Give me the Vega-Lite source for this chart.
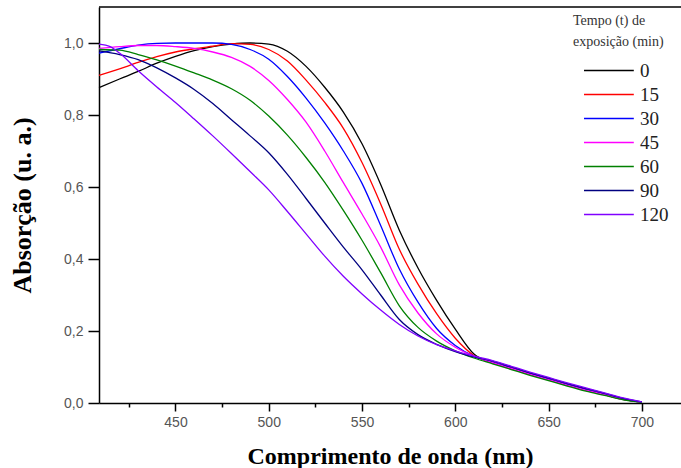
{
  "$schema": "https://vega.github.io/schema/vega-lite/v6.json",
  "autosize": {"type": "none"},
  "padding": {"left": 99, "top": 7, "right": 0, "bottom": 65},
  "width": 582,
  "height": 396,
  "background": "white",
  "config": {
    "view": {"stroke": null},
    "axis": {"grid": false, "domainColor": "black", "domainWidth": 1.5, "tickColor": "black", "tickWidth": 1.5,
      "labelFont": "Liberation Sans", "labelFontSize": 14, "labelColor": "#555555",
      "titleFont": "Liberation Serif", "titleFontWeight": "bold", "titleColor": "black", "labelOverlap": false}
  },
  "layer": [
    {
      "data": {"values": [
        {"t":"0","w":409,"a":0.876},{"t":"0","w":420,"a":0.900},{"t":"0","w":430,"a":0.921},{"t":"0","w":440,"a":0.944},{"t":"0","w":450,"a":0.963},{"t":"0","w":460,"a":0.979},{"t":"0","w":470,"a":0.990},{"t":"0","w":480,"a":0.997},{"t":"0","w":490,"a":1.000},{"t":"0","w":500,"a":0.997},{"t":"0","w":510,"a":0.977},{"t":"0","w":520,"a":0.935},{"t":"0","w":530,"a":0.877},{"t":"0","w":540,"a":0.808},{"t":"0","w":550,"a":0.720},{"t":"0","w":560,"a":0.607},{"t":"0","w":570,"a":0.480},{"t":"0","w":580,"a":0.375},{"t":"0","w":590,"a":0.285},{"t":"0","w":600,"a":0.205},{"t":"0","w":610,"a":0.136},{"t":"0","w":620,"a":0.112},{"t":"0","w":630,"a":0.096},{"t":"0","w":640,"a":0.080},{"t":"0","w":650,"a":0.065},{"t":"0","w":660,"a":0.050},{"t":"0","w":670,"a":0.036},{"t":"0","w":680,"a":0.023},{"t":"0","w":690,"a":0.010},{"t":"0","w":700,"a":0.002},
        {"t":"15","w":409,"a":0.910},{"t":"15","w":420,"a":0.928},{"t":"15","w":430,"a":0.946},{"t":"15","w":440,"a":0.962},{"t":"15","w":450,"a":0.975},{"t":"15","w":460,"a":0.984},{"t":"15","w":470,"a":0.991},{"t":"15","w":480,"a":0.998},{"t":"15","w":490,"a":0.996},{"t":"15","w":500,"a":0.982},{"t":"15","w":510,"a":0.950},{"t":"15","w":520,"a":0.897},{"t":"15","w":530,"a":0.835},{"t":"15","w":540,"a":0.763},{"t":"15","w":550,"a":0.668},{"t":"15","w":560,"a":0.553},{"t":"15","w":570,"a":0.427},{"t":"15","w":580,"a":0.330},{"t":"15","w":590,"a":0.248},{"t":"15","w":600,"a":0.180},{"t":"15","w":610,"a":0.132},{"t":"15","w":620,"a":0.112},{"t":"15","w":630,"a":0.096},{"t":"15","w":640,"a":0.080},{"t":"15","w":650,"a":0.065},{"t":"15","w":660,"a":0.050},{"t":"15","w":670,"a":0.036},{"t":"15","w":680,"a":0.023},{"t":"15","w":690,"a":0.010},{"t":"15","w":700,"a":0.002},
        {"t":"30","w":409,"a":0.972},{"t":"30","w":420,"a":0.984},{"t":"30","w":430,"a":0.994},{"t":"30","w":440,"a":0.999},{"t":"30","w":450,"a":1.000},{"t":"30","w":460,"a":1.000},{"t":"30","w":470,"a":1.000},{"t":"30","w":480,"a":0.996},{"t":"30","w":490,"a":0.982},{"t":"30","w":500,"a":0.955},{"t":"30","w":510,"a":0.907},{"t":"30","w":520,"a":0.847},{"t":"30","w":530,"a":0.778},{"t":"30","w":540,"a":0.700},{"t":"30","w":550,"a":0.610},{"t":"30","w":560,"a":0.493},{"t":"30","w":570,"a":0.372},{"t":"30","w":580,"a":0.280},{"t":"30","w":590,"a":0.207},{"t":"30","w":600,"a":0.160},{"t":"30","w":610,"a":0.130},{"t":"30","w":620,"a":0.113},{"t":"30","w":630,"a":0.097},{"t":"30","w":640,"a":0.081},{"t":"30","w":650,"a":0.066},{"t":"30","w":660,"a":0.051},{"t":"30","w":670,"a":0.037},{"t":"30","w":680,"a":0.024},{"t":"30","w":690,"a":0.011},{"t":"30","w":700,"a":0.002},
        {"t":"45","w":409,"a":0.985},{"t":"45","w":420,"a":0.990},{"t":"45","w":430,"a":0.993},{"t":"45","w":440,"a":0.993},{"t":"45","w":450,"a":0.990},{"t":"45","w":460,"a":0.985},{"t":"45","w":470,"a":0.975},{"t":"45","w":480,"a":0.960},{"t":"45","w":490,"a":0.935},{"t":"45","w":500,"a":0.896},{"t":"45","w":510,"a":0.843},{"t":"45","w":520,"a":0.780},{"t":"45","w":530,"a":0.700},{"t":"45","w":540,"a":0.612},{"t":"45","w":550,"a":0.525},{"t":"45","w":560,"a":0.433},{"t":"45","w":570,"a":0.328},{"t":"45","w":580,"a":0.250},{"t":"45","w":590,"a":0.192},{"t":"45","w":600,"a":0.155},{"t":"45","w":610,"a":0.130},{"t":"45","w":620,"a":0.112},{"t":"45","w":630,"a":0.096},{"t":"45","w":640,"a":0.080},{"t":"45","w":650,"a":0.065},{"t":"45","w":660,"a":0.050},{"t":"45","w":670,"a":0.036},{"t":"45","w":680,"a":0.023},{"t":"45","w":690,"a":0.010},{"t":"45","w":700,"a":0.002},
        {"t":"60","w":409,"a":0.982},{"t":"60","w":420,"a":0.980},{"t":"60","w":430,"a":0.968},{"t":"60","w":440,"a":0.953},{"t":"60","w":450,"a":0.936},{"t":"60","w":460,"a":0.917},{"t":"60","w":470,"a":0.897},{"t":"60","w":480,"a":0.873},{"t":"60","w":490,"a":0.841},{"t":"60","w":500,"a":0.797},{"t":"60","w":510,"a":0.744},{"t":"60","w":520,"a":0.682},{"t":"60","w":530,"a":0.613},{"t":"60","w":540,"a":0.535},{"t":"60","w":550,"a":0.452},{"t":"60","w":560,"a":0.362},{"t":"60","w":570,"a":0.270},{"t":"60","w":580,"a":0.210},{"t":"60","w":590,"a":0.172},{"t":"60","w":600,"a":0.145},{"t":"60","w":610,"a":0.125},{"t":"60","w":620,"a":0.109},{"t":"60","w":630,"a":0.093},{"t":"60","w":640,"a":0.077},{"t":"60","w":650,"a":0.062},{"t":"60","w":660,"a":0.047},{"t":"60","w":670,"a":0.033},{"t":"60","w":680,"a":0.021},{"t":"60","w":690,"a":0.009},{"t":"60","w":700,"a":0.002},
        {"t":"90","w":409,"a":0.978},{"t":"90","w":420,"a":0.968},{"t":"90","w":430,"a":0.954},{"t":"90","w":440,"a":0.931},{"t":"90","w":450,"a":0.903},{"t":"90","w":460,"a":0.871},{"t":"90","w":470,"a":0.832},{"t":"90","w":480,"a":0.787},{"t":"90","w":490,"a":0.742},{"t":"90","w":500,"a":0.695},{"t":"90","w":510,"a":0.635},{"t":"90","w":520,"a":0.568},{"t":"90","w":530,"a":0.500},{"t":"90","w":540,"a":0.433},{"t":"90","w":550,"a":0.370},{"t":"90","w":560,"a":0.300},{"t":"90","w":570,"a":0.232},{"t":"90","w":580,"a":0.190},{"t":"90","w":590,"a":0.163},{"t":"90","w":600,"a":0.143},{"t":"90","w":610,"a":0.128},{"t":"90","w":620,"a":0.116},{"t":"90","w":630,"a":0.100},{"t":"90","w":640,"a":0.084},{"t":"90","w":650,"a":0.069},{"t":"90","w":660,"a":0.054},{"t":"90","w":670,"a":0.040},{"t":"90","w":680,"a":0.027},{"t":"90","w":690,"a":0.013},{"t":"90","w":700,"a":0.003},
        {"t":"120","w":409,"a":0.997},{"t":"120","w":415,"a":0.990},{"t":"120","w":420,"a":0.972},{"t":"120","w":430,"a":0.923},{"t":"120","w":440,"a":0.878},{"t":"120","w":450,"a":0.835},{"t":"120","w":460,"a":0.789},{"t":"120","w":470,"a":0.742},{"t":"120","w":480,"a":0.693},{"t":"120","w":490,"a":0.643},{"t":"120","w":500,"a":0.592},{"t":"120","w":510,"a":0.532},{"t":"120","w":520,"a":0.470},{"t":"120","w":530,"a":0.408},{"t":"120","w":540,"a":0.352},{"t":"120","w":550,"a":0.303},{"t":"120","w":560,"a":0.258},{"t":"120","w":570,"a":0.218},{"t":"120","w":580,"a":0.186},{"t":"120","w":590,"a":0.162},{"t":"120","w":600,"a":0.145},{"t":"120","w":610,"a":0.130},{"t":"120","w":620,"a":0.118},{"t":"120","w":630,"a":0.102},{"t":"120","w":640,"a":0.086},{"t":"120","w":650,"a":0.071},{"t":"120","w":660,"a":0.056},{"t":"120","w":670,"a":0.042},{"t":"120","w":680,"a":0.028},{"t":"120","w":690,"a":0.014},{"t":"120","w":700,"a":0.003}
      ]},
      "mark": {"type": "line", "strokeWidth": 1.3, "interpolate": "monotone"},
      "encoding": {
        "x": {"field": "w", "type": "quantitative",
          "scale": {"domain": [409, 721], "nice": false, "zero": false},
          "axis": {"title": "Comprimento de onda (nm)", "titleFontSize": 24, "values": [425,450,475,500,525,550,575,600,625,650,675,700],
            "labelExpr": "datum.value % 50 == 0 ? datum.label : ''",
            "tickSize": {"condition": {"test": "datum.value % 50 != 0", "value": 4}, "value": 8},
            "labelPadding": 4, "titlePadding": 15}},
        "y": {"field": "a", "type": "quantitative",
          "scale": {"domain": [0, 1.1], "nice": false},
          "axis": {"title": "Absorção (u. a.)", "titleFontSize": 26, "values": [0,0.1,0.2,0.3,0.4,0.5,0.6,0.7,0.8,0.9,1.0],
            "labelExpr": "round(datum.value*10) % 2 == 0 ? replace(format(datum.value, '.1f'), '.', ',') : ''",
            "tickSize": {"condition": {"test": "round(datum.value*10) % 2 != 0", "value": 6}, "value": 11},
            "labelPadding": 5, "titlePadding": 28}},
        "color": {"field": "t", "type": "nominal",
          "scale": {"domain": ["0","15","30","45","60","90","120"], "range": ["#000000","#ff0000","#0000ff","#ff00ff","#008000","#000080","#8000ff"]},
          "legend": {"orient": "none", "legendX": 474, "legendY": 7, "title": ["Tempo (t) de", "exposição (min)"],
            "titleFont": "Liberation Serif", "titleFontSize": 14, "titleFontWeight": "normal", "titleColor": "#333333", "titleLineHeight": 21, "titlePadding": 8,
            "labelFont": "Liberation Serif", "labelFontSize": 19, "labelColor": "#222222",
            "symbolType": "M-0.2,0H3.8", "symbolSize": 620, "symbolStrokeWidth": 1.5, "labelOffset": 40, "rowPadding": 0, "padding": 0}}
      }
    },
    {
      "data": {"values": [{"top": 1.1}]},
      "mark": {"type": "rule", "color": "black", "strokeWidth": 1.5},
      "encoding": {"y": {"field": "top", "type": "quantitative"}}
    }
  ]
}
